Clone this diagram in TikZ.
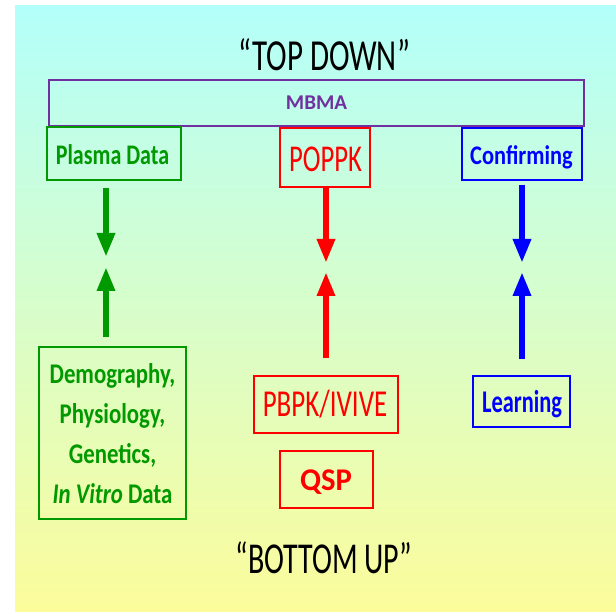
\documentclass[tikz,border=0pt]{standalone}
\usepackage{fontspec}
\setmainfont{Carlito}
\usetikzlibrary{arrows.meta}
\definecolor{cgreen}{RGB}{0,153,0}
\definecolor{cred}{RGB}{255,0,0}
\definecolor{cblue}{RGB}{0,0,255}
\definecolor{cpurple}{RGB}{112,48,160}
\definecolor{bgtop}{RGB}{179,255,250}
\definecolor{bgbot}{RGB}{252,252,155}
\newcommand{\ys}[2]{\scalebox{1}[#1]{#2}}
\newcommand{\fs}[1]{\fontsize{#1}{#1}\selectfont}
\tikzset{
  box/.style={draw, line width=1.4pt, inner sep=0pt},
  lbl/.style={anchor=base, inner sep=0pt},
  arr/.style={line width=6pt, -{Triangle[width=17pt,length=24pt]}},
}
\begin{document}
\begin{tikzpicture}[x=1pt,y=-1pt]
\useasboundingbox (0,0) rectangle (616,612);
\fill[white] (0,0) rectangle (616,612);
\shade[top color=bgtop, bottom color=bgbot] (15,6) rectangle (616,612);

% titles
\node[lbl, font=\fs{31}] (top) at (324,71) {\ys{1.43}{“TOP DOWN”}};
\node[lbl, font=\fs{30}] (bottom) at (324,573) {\ys{1.47}{“BOTTOM UP”}};

% MBMA
\node[box, draw=cpurple, line width=2.7pt, minimum width=535pt, minimum height=46pt] (mbma) at (316.5,103) {};
\node[lbl, font=\fs{21}\bfseries, text=cpurple] (mbmat) at (316.5,110) {MBMA};

% top row
\node[box, draw=cgreen, minimum width=134pt, minimum height=53pt] (plasma) at (114,153.5) {};
\node[lbl, font=\fs{22}\bfseries, text=cgreen] (plasmat) at (112.5,165) {\ys{1.29}{Plasma Data}};

\node[box, draw=cred, minimum width=90pt, minimum height=59pt] (poppk) at (325,157.5) {};
\node[lbl, font=\fs{26.7}, text=cred] (poppkt) at (325.5,172) {\ys{1.42}{POPPK}};

\node[box, draw=cblue, minimum width=120pt, minimum height=52pt] (confirm) at (522,154) {};
\node[lbl, font=\fs{22.4}\bfseries, text=cblue] (confirmt) at (521.5,165) {\ys{1.2}{Confirming}};

% bottom row
\node[box, draw=cgreen, minimum width=147pt, minimum height=172pt] (demo) at (112.5,433) {};
\node[lbl, font=\fs{22.8}\bfseries, text=cgreen] (demo1) at (112.5,383) {\ys{1.25}{Demography,}};
\node[lbl, font=\fs{22.8}\bfseries, text=cgreen] (demo2) at (112.5,423) {\ys{1.25}{Physiology,}};
\node[lbl, font=\fs{22.8}\bfseries, text=cgreen] (demo3) at (112.5,463) {\ys{1.25}{Genetics,}};
\node[lbl, font=\fs{22.8}\bfseries, text=cgreen] (demo4) at (112.5,503) {\ys{1.25}{\textit{In Vitro} Data}};

\node[box, draw=cred, minimum width=144pt, minimum height=57pt] (pbpk) at (326,404.5) {};
\node[lbl, font=\fs{27}, text=cred] (pbpkt) at (325,417) {\ys{1.41}{PBPK/IVIVE}};

\node[box, draw=cred, minimum width=93pt, minimum height=57pt] (qsp) at (326.5,479.5) {};
\node[lbl, font=\fs{30.7}\bfseries, text=cred] (qspt) at (326,490) {\ys{1.03}{QSP}};

\node[box, draw=cblue, minimum width=97pt, minimum height=51pt] (learn) at (521.5,401.5) {};
\node[lbl, font=\fs{22.4}\bfseries, text=cblue] (learnt) at (522,412) {\ys{1.41}{Learning}};

% arrow tips
\coordinate (gd) at (106,257);
\coordinate (gu) at (106,267);
\coordinate (rd) at (326,263);
\coordinate (ru) at (326,272);
\coordinate (bd) at (522,263);
\coordinate (bu) at (522,272);

\draw[arr, cgreen, shorten <=7pt] (plasma.south -| gd) -- (gd);
\draw[arr, cgreen, shorten <=9pt] (demo.north -| gu) -- (gu);
\draw[arr, cred] (poppk.south -| rd) -- (rd);
\draw[arr, cred, shorten <=17pt] (pbpk.north -| ru) -- (ru);
\draw[arr, cblue, shorten <=4pt] (confirm.south -| bd) -- (bd);
\draw[arr, cblue, shorten <=16pt] (learn.north -| bu) -- (bu);
\end{tikzpicture}
\end{document}
